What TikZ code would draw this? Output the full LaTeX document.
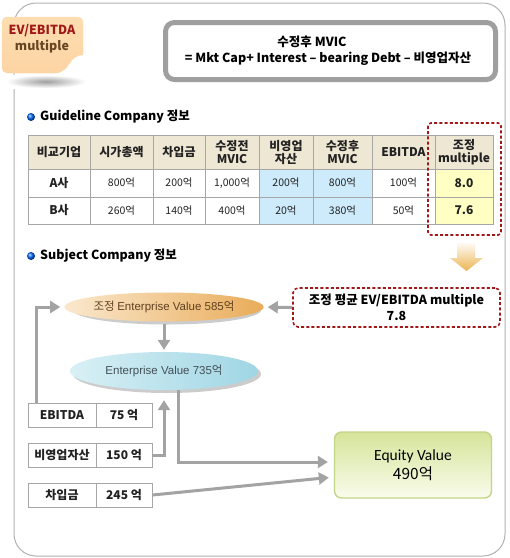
\documentclass[tikz,border=0pt]{standalone}
\usepackage{fontspec}
\setmainfont{Noto Sans CJK KR}
\newfontfamily\calfont{Carlito}
\newfontfamily\arialfont{Liberation Sans}
\usetikzlibrary{arrows.meta,shapes.geometric,calc}
\definecolor{arrgray}{HTML}{A3A3A3}
\definecolor{tblgray}{HTML}{A6A6A6}
\definecolor{hdrfill}{HTML}{EEE7D3}
\definecolor{bluefill}{HTML}{CDEBFA}
\definecolor{yelfill}{HTML}{FFFFC4}
\definecolor{darkred}{HTML}{A01818}
\definecolor{txt}{HTML}{222222}
\definecolor{orL}{HTML}{FAE8CD}
\definecolor{orR}{HTML}{E9AC5A}
\definecolor{blL}{HTML}{D8F0F5}
\definecolor{blR}{HTML}{A0D6E4}
\definecolor{eqT}{HTML}{D5E49A}
\definecolor{eqB}{HTML}{FAFCEC}
\definecolor{eqD}{HTML}{C3D58A}
\definecolor{bdT}{HTML}{FDDDB0}
\definecolor{bdM}{HTML}{FBB466}
\definecolor{bdB}{HTML}{FDD4A4}
\tikzset{
  tcell/.style={draw=tblgray, line width=0.9pt, inner sep=0pt, align=center, text=txt},
  hdr/.style={font=\fontsize{12}{13}\selectfont\bfseries},
  dat/.style={font=\fontsize{10.5}{12}\selectfont},
  datb/.style={font=\fontsize{12}{13}\selectfont\bfseries},
  garrow/.style={draw=arrgray, line width=3pt, -{Triangle[width=12pt,length=10pt]}},
  reddash/.style={draw=darkred, line width=1.6pt, dash pattern=on 3pt off 2.2pt, rounded corners=3pt},
  heading/.style={font=\fontsize{12.5}{14}\selectfont\bfseries, anchor=west, text=black, inner sep=0pt},
  evnode/.style={ellipse, minimum width=188pt, inner sep=0pt, font=\fontsize{11.5}{14}\selectfont},
}
\newcommand\tcell[8]{\node[tcell,#8,fill=#6,minimum width={(#4-#2)*1pt},minimum height={(#5-#3)*1pt}] (#1) at ({(#2+#4)/2},{(#3+#5)/2}) {#7};}
\begin{document}
\begin{tikzpicture}[x=1pt,y=-1pt]
\useasboundingbox (0,0) rectangle (510,558);
% outer frame
\draw[draw=gray!60, line width=1pt, rounded corners=22pt, fill=white] (14,3) rectangle (505,556);
% badge shadow
\path[shading=radial, inner color=gray!75, outer color=white] (6,75) rectangle (86,88);
% badge
\path[shading=axis, top color=bdT, middle color=bdM, bottom color=bdB, draw=bdT, line width=0.4pt]
  (7,17) -- (78,17) to[out=0,in=90] (83,22) -- (83,55) .. controls (68,55) and (70,73) .. (55,73) -- (7,73) to[out=180,in=-90] (2,68) -- (2,22) to[out=90,in=180] cycle;
\node[text=darkred, font=\fontsize{12.5}{14}\selectfont\bfseries, inner sep=0pt] (badge1) at (42,31) {EV/EBITDA};
\node[text=brown!55!black, font=\fontsize{12.5}{14}\selectfont\bfseries, inner sep=0pt] (badge2) at (42,47) {multiple};
% MVIC box
\node[draw=gray!75, line width=5pt, rounded corners=9pt, fill=white, minimum width=330pt, minimum height=57pt] (mvic) at (330.5,51) {};
\node[font=\fontsize{12.5}{14}\selectfont\bfseries, inner sep=0pt] (mvic1) at (312,42) {수정후 MVIC};
\node[font=\fontsize{12.5}{14}\selectfont\bfseries, inner sep=0pt] (mvic2) at (328,59) {= Mkt Cap+ Interest – bearing Debt – 비영업자산};
% headings
\shade[ball color=blue!60!cyan] (31,117) circle (4pt);
\node[heading] (h1) at (40,117) {Guideline Company 정보};
\shade[ball color=blue!60!cyan] (31,256) circle (4pt);
\node[heading] (h2) at (40,256) {Subject Company 정보};
% table header
\tcell{c11}{28}{135}{90}{169}{hdrfill}{비교기업}{hdr}
\tcell{c12}{90}{135}{153}{169}{hdrfill}{시가총액}{hdr}
\tcell{c13}{153}{135}{205}{169}{hdrfill}{차입금}{hdr}
\tcell{c14}{205}{135}{259}{169}{hdrfill}{수정전\\MVIC}{hdr}
\tcell{c15}{259}{135}{313}{169}{hdrfill}{비영업\\자산}{hdr}
\tcell{c16}{313}{135}{372}{169}{hdrfill}{수정후\\MVIC}{hdr}
\tcell{c17}{372}{135}{435}{169}{hdrfill}{EBITDA}{hdr}
\tcell{c18}{435}{135}{493}{169}{hdrfill}{조정\\multiple}{hdr}
% row A
\tcell{c21}{28}{169}{90}{197}{white}{A사}{datb}
\tcell{c22}{90}{169}{153}{197}{white}{800억}{dat}
\tcell{c23}{153}{169}{205}{197}{white}{200억}{dat}
\tcell{c24}{205}{169}{259}{197}{white}{1,000억}{dat}
\tcell{c25}{259}{169}{313}{197}{bluefill}{200억}{dat}
\tcell{c26}{313}{169}{372}{197}{bluefill}{800억}{dat}
\tcell{c27}{372}{169}{435}{197}{white}{100억}{dat}
\tcell{c28}{435}{169}{493}{197}{yelfill}{8.0}{datb}
% row B
\tcell{c31}{28}{197}{90}{224}{white}{B사}{datb}
\tcell{c32}{90}{197}{153}{224}{white}{260억}{dat}
\tcell{c33}{153}{197}{205}{224}{white}{140억}{dat}
\tcell{c34}{205}{197}{259}{224}{white}{400억}{dat}
\tcell{c35}{259}{197}{313}{224}{bluefill}{20억}{dat}
\tcell{c36}{313}{197}{372}{224}{bluefill}{380억}{dat}
\tcell{c37}{372}{197}{435}{224}{white}{50억}{dat}
\tcell{c38}{435}{197}{493}{224}{yelfill}{7.6}{datb}
% red dashed box around multiple column
\draw[reddash] (428,123) rectangle (501,235);
% orange down arrow
\path[shading=axis, top color=orange!4!white, bottom color=orR!90!yellow]
  (457,243) -- (475,243) -- (475,258) -- (483,258) -- (466.5,271) -- (450,258) -- (457,258) -- cycle;
% subject company
\node[draw=darkred, line width=1.6pt, dash pattern=on 3pt off 2.2pt, rounded corners=5pt, minimum width=207pt, minimum height=39pt, align=center,
  font=\fontsize{12.5}{16}\selectfont\bfseries, inner sep=0pt] (avg) at (396.5,307.5) {조정 평균 EV/EBITDA multiple\\7.8};
% ellipse shadows
\fill[gray!40] (167,310) ellipse (94pt and 14.5pt);
\fill[gray!40] (167,374) ellipse (94pt and 19pt);
\node[evnode, minimum height=29pt, left color=orL, right color=orR, text=brown!50!black] (ev1) at (164,307) {조정 {\arialfont Enterprise Value 585}억};
\node[evnode, minimum height=38pt, left color=blL, right color=blR, text=cyan!25!black] (ev2) at (164,371) {{\arialfont Enterprise Value 735}억};
% left small table
\tcell{e1}{28}{403}{96}{427}{white}{EBITDA}{datb}
\tcell{e2}{96}{403}{152}{427}{white}{75 억}{datb}
\tcell{n1}{28}{443}{96}{467}{white}{비영업자산}{datb}
\tcell{n2}{96}{443}{152}{467}{white}{150 억}{datb}
\tcell{d1}{28}{483}{96}{507}{white}{차입금}{datb}
\tcell{d2}{96}{483}{152}{507}{white}{245 억}{datb}
% equity box
\node[draw=eqD, line width=1.4pt, rounded corners=7pt, top color=eqT, bottom color=eqB,
  minimum width=157pt, minimum height=66pt, align=center, font=\fontsize{15.5}{19}\selectfont, text=black] (eq) at (413,465) {{\calfont Equity Value}\\490억};
% connectors
\draw[garrow, shorten >=4pt] (avg.west) -- (ev1.east);
\draw[garrow, shorten >=2pt, shorten <=2pt] (ev1.south) -- (ev2.north);
\draw[garrow, shorten >=4pt] ([xshift=9pt]e1.north west) |- (ev1.west);
\draw[garrow] (n2.east) -| ($(ev2.south)+(0,10)$);
\draw[garrow, shorten >=6pt] ([xshift=14pt]ev2.south) |- ([yshift=3pt]eq.west);
\draw[garrow, shorten >=5pt] (d2.east) -- ([yshift=-12pt]eq.west);
\end{tikzpicture}
\end{document}
